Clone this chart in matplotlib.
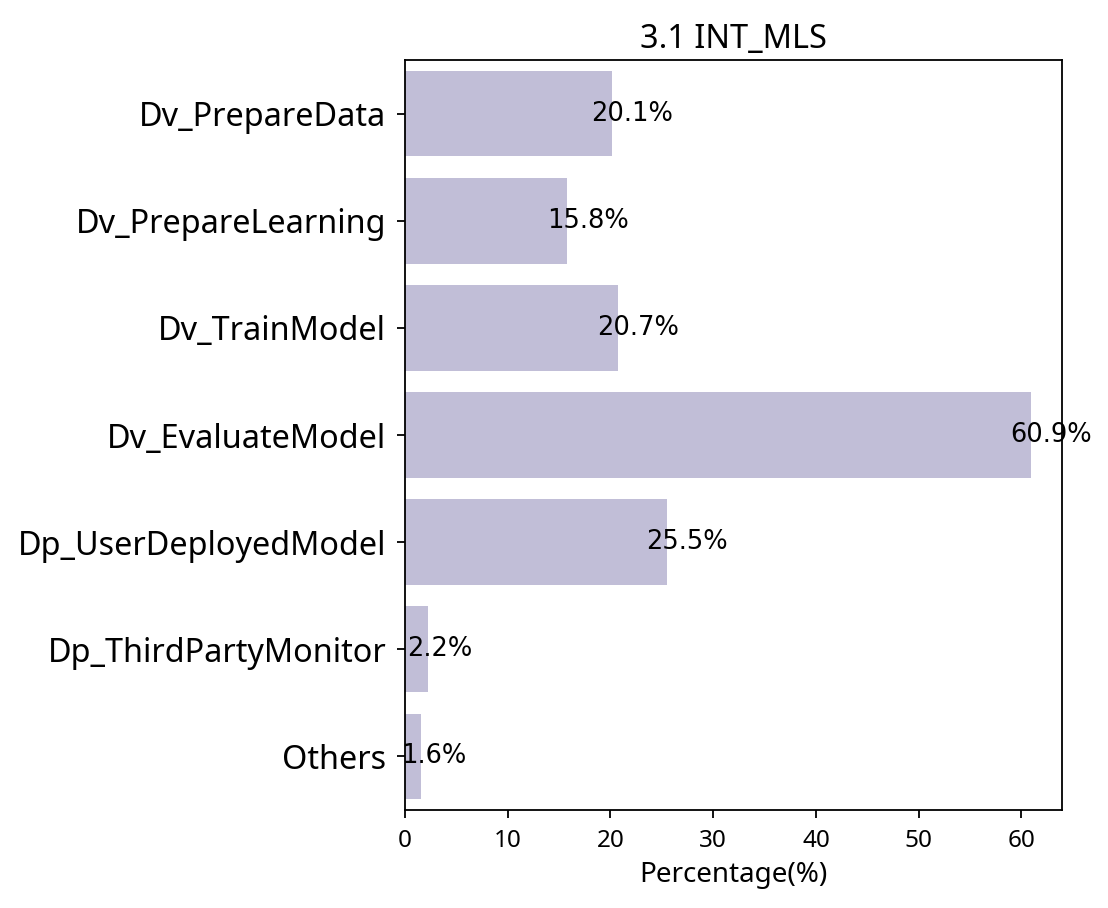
import matplotlib
matplotlib.use("Agg")
import matplotlib.pyplot as plt

categories = ["Dv_PrepareData", "Dv_PrepareLearning", "Dv_TrainModel", "Dv_EvaluateModel",
              "Dp_UserDeployedModel", "Dp_ThirdPartyMonitor", "Others"]
values = [20.1, 15.8, 20.7, 60.9, 25.5, 2.2, 1.6]
xticks = [0, 10, 20, 30, 40, 50, 60]
title = "3.1 INT_MLS"
xlabel = "Percentage(%)"

fig = plt.figure(figsize=(11.08, 9.08), dpi=100)
ax = fig.add_axes([405/1108, 1 - 810/908, (1062-405)/1108, (810-60)/908])

ypos = list(range(len(categories)))
ax.barh(ypos, values, height=0.8, color="#c1bed7")
ax.set_ylim(len(categories) - 0.5, -0.5)
ax.set_xlim(0, max(values) * 1.05)
ax.set_yticks(ypos)
ax.set_yticklabels(categories, fontsize=23.3, family="Noto Sans")
ax.set_xticks(xticks)
ax.set_xticklabels([str(t) for t in xticks], fontsize=17.5, family="Noto Sans")
ax.tick_params(axis="both", length=5.5, width=1.3, pad=8)
for s in ax.spines.values():
    s.set_linewidth(1.3)
ax.set_xlabel(xlabel, fontsize=20, family="Noto Sans", labelpad=6)
ax.set_title(title, fontsize=23.4, family="Noto Sans", pad=9)

for i, v in enumerate(values):
    ax.text(v - 2, i, f"{v}%", va="center", ha="left", fontsize=18.5, family="DejaVu Sans")

fig.savefig("out.png", dpi=100)
